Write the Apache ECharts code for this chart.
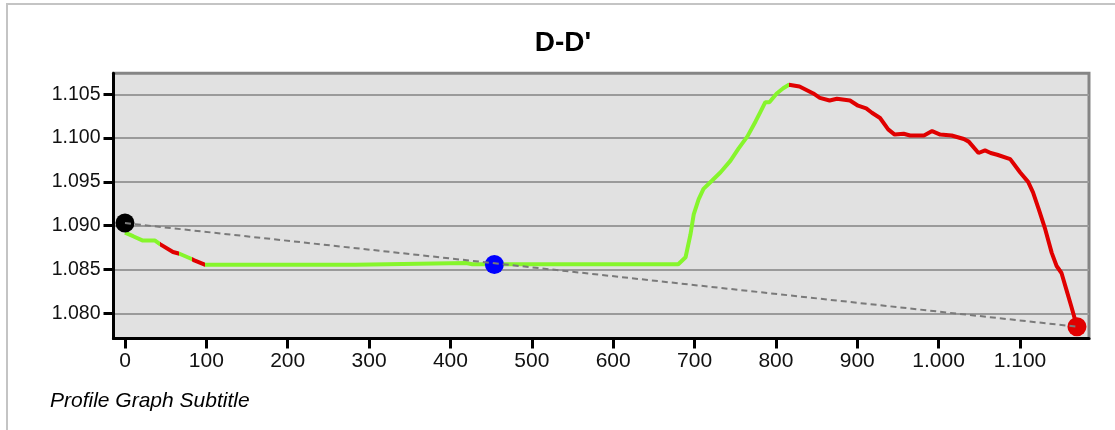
<!DOCTYPE html>
<html>
<head>
<meta charset="utf-8">
<script src="https://cdn.jsdelivr.net/npm/echarts@6/dist/echarts.min.js"></script>
<style>
html,body{margin:0;padding:0;background:#fff;}
#chart{width:1115px;height:430px;}
</style>
</head>
<body>
<div id="chart"></div>
<script>
// ---- data ----
const titleText = "D-D'";
const subtitleText = "Profile Graph Subtitle";
const distance = [0, 10, 22, 37, 43, 59, 67, 82, 86, 98, 150, 283, 285, 419, 427, 500, 600, 680, 689, 695, 699, 705, 711, 721, 732, 744, 754, 765, 775, 781, 787, 792, 801, 809, 816, 829, 846, 854, 866, 875, 891, 901, 911, 918, 928, 938, 946, 957, 965, 982, 992, 1002, 1016, 1031, 1037, 1049, 1057, 1064, 1072, 1088, 1100, 1110, 1116, 1123, 1131, 1139, 1145, 1151, 1157, 1163, 1170];
const elevation = [1.0892, 1.0888, 1.0883, 1.0883, 1.0879, 1.0870, 1.0868, 1.0862, 1.0860, 1.08555, 1.08555, 1.08555, 1.08575, 1.08575, 1.0856, 1.0856, 1.0856, 1.0856, 1.0864, 1.0890, 1.0913, 1.0930, 1.0942, 1.0951, 1.0961, 1.0974, 1.0988, 1.1002, 1.1019, 1.1030, 1.1041, 1.1041, 1.1051, 1.1057, 1.1061, 1.1059, 1.1051, 1.1046, 1.1043, 1.1045, 1.1043, 1.1037, 1.1034, 1.1029, 1.1023, 1.1010, 1.1004, 1.1005, 1.1003, 1.1003, 1.1008, 1.1004, 1.1003, 1.0999, 1.0996, 1.0983, 1.0986, 1.0983, 1.0981, 1.0976, 1.0961, 1.0950, 1.0938, 1.0919, 1.0896, 1.0869, 1.0854, 1.0846, 1.0827, 1.0808, 1.0785];
// segment classes along the profile (by distance)
const segmentBreaks = [0, 43, 67, 82, 98, 816, 1170];
const segmentClass = ['ok', 'steep', 'ok', 'steep', 'ok', 'steep'];
// markers
const startPoint = [0, 1.0903];
const midPoint = [454, 1.08557];
const endPoint = [1170, 1.07847];
// axis ticks
const xTicks = [0, 100, 200, 300, 400, 500, 600, 700, 800, 900, 1000, 1100];
const yTicks = [1.080, 1.085, 1.090, 1.095, 1.100, 1.105];
const xRange = [-14.1, 1184.8];
const yRange = [1.07712, 1.10740];

// ---- styles ----
const classColor = { ok: '#86f52c', steep: '#e00000' };
const FONT = '"Liberation Sans", Arial, sans-serif';

const chart = echarts.init(document.getElementById('chart'), null, { renderer: 'canvas' });

const pieces = segmentClass.map((c, i) => ({
  gte: segmentBreaks[i],
  lt: i === segmentClass.length - 1 ? segmentBreaks[i + 1] + 1000 : segmentBreaks[i + 1],
  color: classColor[c]
}));
pieces[0].gte = -1000;

const fmtX = v => String(Math.round(v)).replace(/\B(?=(\d{3})+(?!\d))/g, '.');

chart.setOption({
  animation: false,
  backgroundColor: '#ffffff',
  graphic: [
    { type: 'rect', shape: { x: 7, y: 4, width: 1200, height: 600 }, style: { fill: 'none', stroke: '#c4c4c4', lineWidth: 2 }, z: -10 },
    { type: 'text', x: 563, y: 43, style: { text: titleText, font: 'bold 28px ' + FONT, fill: '#000', textAlign: 'center', textVerticalAlign: 'middle' } },
    { type: 'text', x: 50, y: 401, style: { text: subtitleText, font: 'italic 21px ' + FONT, fill: '#000', textAlign: 'left', textVerticalAlign: 'middle' } }
  ],
  grid: {
    left: 113.5, right: 26, top: 73.3, bottom: 91.5,
    show: true, backgroundColor: '#e1e1e1', borderColor: '#858585', borderWidth: 3
  },
  visualMap: {
    show: false, type: 'piecewise', dimension: 0, seriesIndex: 0, pieces: pieces
  },
  xAxis: {
    type: 'value', min: xRange[0], max: xRange[1],
    axisLine: { show: true, onZero: false, lineStyle: { color: '#000', width: 3 } },
    axisTick: { show: true, length: 10, lineStyle: { color: '#000', width: 3 }, customValues: xTicks },
    axisLabel: { customValues: xTicks, formatter: fmtX, color: '#111', fontFamily: FONT, fontSize: 21, margin: 12 },
    splitLine: { show: false }
  },
  yAxis: {
    type: 'value', min: yRange[0], max: yRange[1],
    axisLine: { show: true, onZero: false, lineStyle: { color: '#000', width: 3 } },
    axisTick: { show: true, length: 10, lineStyle: { color: '#000', width: 3 }, customValues: yTicks },
    axisLabel: { customValues: yTicks, formatter: v => v.toFixed(3), color: '#111', fontFamily: FONT, fontSize: 19.5, margin: 13 },
    splitLine: { show: true, lineStyle: { color: '#9a9a9a', width: 2 } }
  },
  series: [
    {
      name: 'profile', type: 'line', showSymbol: false, symbol: 'none',
      data: distance.map((d, i) => [d, elevation[i]]),
      lineStyle: { width: 4 }, z: 2
    },
    {
      name: 'markers', type: 'scatter', symbolSize: 19,
      itemStyle: { opacity: 1 },
      data: [
        { value: startPoint, itemStyle: { color: '#000000', opacity: 1 } },
        { value: midPoint, itemStyle: { color: '#0000ff', opacity: 1 } },
        { value: endPoint, itemStyle: { color: '#e00000', opacity: 1 } }
      ],
      z: 3
    },
    {
      name: 'chord', type: 'line', showSymbol: false, symbol: 'none',
      data: [startPoint, endPoint],
      lineStyle: { color: '#7a7a7a', width: 2, type: [6, 4] }, z: 4
    }
  ]
});
</script>
</body>
</html>
